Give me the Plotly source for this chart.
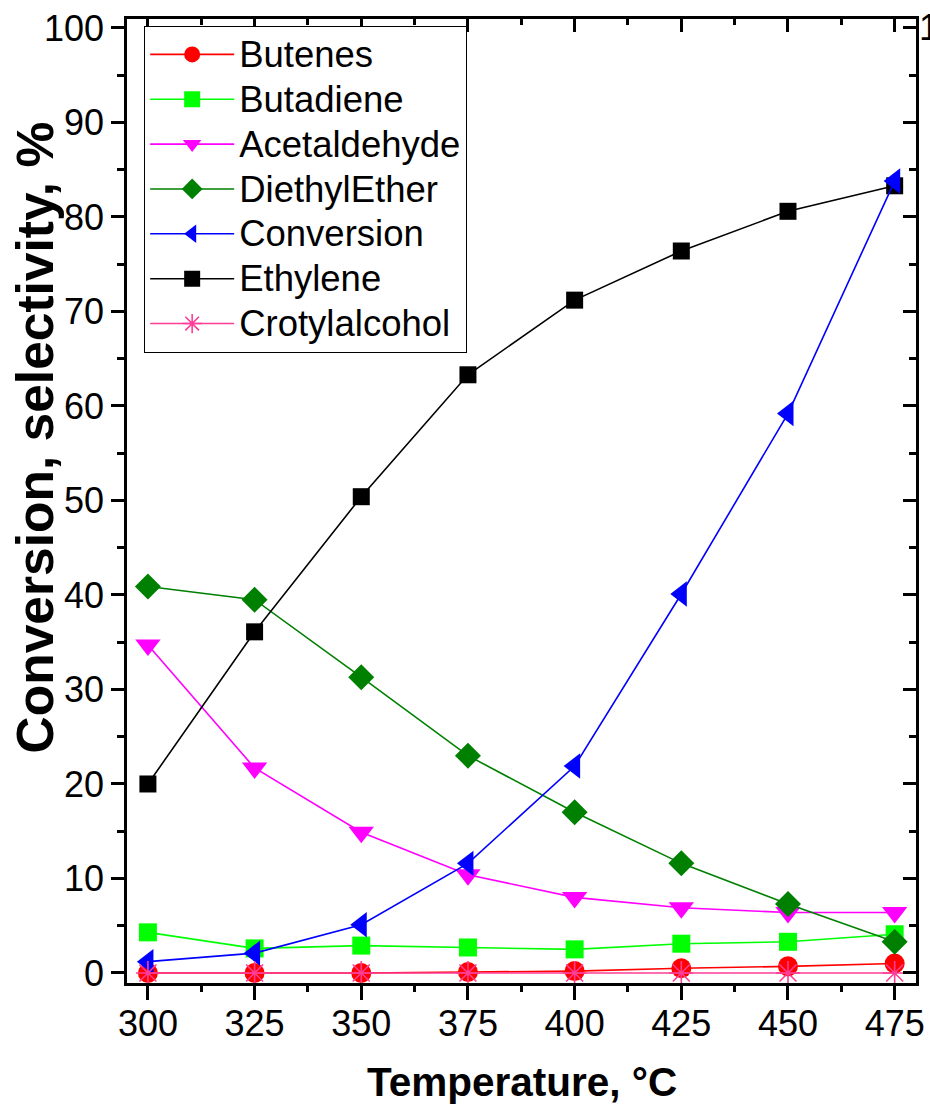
import plotly.graph_objects as go

# Reaction temperature, °C
temperature = [300, 325, 350, 375, 400, 425, 450, 475]

# Conversion and product selectivities, %
butenes = [0.0, 0.0, 0.0, 0.1, 0.2, 0.5, 0.7, 1.0]
butadiene = [4.3, 2.6, 2.9, 2.7, 2.5, 3.1, 3.3, 4.1]
acetaldehyde = [34.7, 21.7, 14.9, 10.4, 8.0, 6.9, 6.4, 6.4]
diethyl_ether = [40.9, 39.5, 31.3, 23.0, 17.0, 11.6, 7.3, 3.3]
conversion = [1.2, 2.1, 5.1, 11.6, 21.9, 40.1, 59.2, 83.8]
ethylene = [20.0, 36.1, 50.4, 63.3, 71.2, 76.4, 80.6, 83.3]
crotyl_alcohol = [0.0, 0.0, 0.0, 0.0, 0.0, 0.0, 0.0, 0.0]

x_ticks = [300, 325, 350, 375, 400, 425, 450, 475]
y_ticks = [0, 10, 20, 30, 40, 50, 60, 70, 80, 90, 100]

FONT = "Liberation Sans, Arial, sans-serif"
LEGEND_TEXT_PX = 36.5

# (name, values, colour, symbol, size, legend position, axes); drawing order
# is kept separate from the legend order
series = [
    ("Butenes", butenes, "#FF0000", "circle", 20, 1, ("x", "y")),
    ("Butadiene", butadiene, "#00FF00", "square", 18, 2, ("x", "y")),
    ("Acetaldehyde", acetaldehyde, "#FF00FF", "triangle-down", 22, 3, ("x", "y")),
    ("DiethylEther", diethyl_ether, "#008000", "diamond", 20, 4, ("x", "y")),
    ("Ethylene", ethylene, "#000000", "square", 17, 6, ("x", "y")),
    ("Conversion", conversion, "#0000FF", "triangle-left", 22, 5, ("x", "y")),
    # drawn on the mirrored top/right axes (same scales) so the frame is complete
    ("Crotylalcohol", crotyl_alcohol, "#FF3C96", "asterisk-open", 20, 7, ("x2", "y2")),
]

fig = go.Figure()
for name, values, color, symbol, size, rank, (xa, ya) in series:
    marker = dict(symbol=symbol, size=size, color=color)
    if symbol.endswith("-open"):
        marker["line"] = dict(color=color, width=1.6)
    else:
        marker["line"] = dict(width=0)
    fig.add_trace(go.Scatter(
        x=temperature, y=values, mode="lines+markers",
        name=f'<span style="font-size:{LEGEND_TEXT_PX}px">{name}</span>',
        line=dict(color=color, width=1.6), marker=marker, legendrank=rank,
        xaxis=xa, yaxis=ya,
    ))

x_range = [295.1, 480.0]
y_range = [-1.06, 100.95]

axis_common = dict(showline=True, linecolor="black", linewidth=2.5,
                   showgrid=False, zeroline=False, tickcolor="black",
                   tickwidth=2.5, automargin=False)

fig.update_layout(
    width=930, height=1107,
    margin=dict(l=127, r=14, t=19, b=124),
    paper_bgcolor="white", plot_bgcolor="white",
    font=dict(family=FONT, size=36, color="black"),
    showlegend=True,
    legend=dict(
        x=0.0215, y=0.993, xanchor="left", yanchor="top",
        bordercolor="black", borderwidth=1.2, bgcolor="white",
        font=dict(family=FONT, size=32.2, color="black"),
        itemwidth=84, tracegroupgap=0,
    ),
    xaxis=dict(
        **axis_common, range=x_range, tickmode="array", tickvals=x_ticks,
        ticks="outside", ticklen=14, ticklabelstandoff=-7,
        minor=dict(ticks="outside", ticklen=6, tickwidth=2.5,
                   tickcolor="black", dtick=12.5, tick0=300),
        tickfont=dict(family=FONT, size=36),
    ),
    yaxis=dict(
        **axis_common, range=y_range, tickmode="array", tickvals=y_ticks,
        ticks="outside", ticklen=13,
        minor=dict(ticks="outside", ticklen=7, tickwidth=2.5,
                   tickcolor="black", dtick=5, tick0=0),
        tickfont=dict(family=FONT, size=36),
    ),
    xaxis2=dict(
        **axis_common, range=x_range, overlaying="x", side="top", anchor="y2",
        tickmode="array", tickvals=x_ticks, ticks="inside", ticklen=13,
        showticklabels=False,
        minor=dict(ticks="inside", ticklen=6, tickwidth=2.5,
                   tickcolor="black", dtick=12.5, tick0=300),
    ),
    yaxis2=dict(
        **axis_common, range=y_range, overlaying="y", side="right", anchor="x2",
        tickmode="array", tickvals=y_ticks, ticks="inside", ticklen=13,
        showticklabels=False,
        minor=dict(ticks="inside", ticklen=7, tickwidth=2.5,
                   tickcolor="black", dtick=5, tick0=0),
    ),
)

# Axis titles
fig.add_annotation(
    text="<b>Temperature, °C</b>", xref="paper", yref="paper",
    x=0.5, y=0, yshift=-99, xanchor="center", yanchor="middle",
    showarrow=False, font=dict(family=FONT, size=40.5, color="black"),
)
fig.add_annotation(
    text="<b>Conversion, selectivity, %</b>", xref="paper", yref="paper",
    x=0, y=0.566, xshift=-127 + 4, xanchor="left", yanchor="middle",
    textangle=-90, showarrow=False,
    font=dict(family=FONT, size=51.5, color="black"),
)
# Right-hand axis label at the top tick
fig.add_annotation(
    text="100", xref="paper", yref="y", x=1, y=100, xanchor="left",
    yanchor="middle", xshift=1, showarrow=False,
    font=dict(family=FONT, size=36, color="black"),
)

fig.write_html("out.html")
